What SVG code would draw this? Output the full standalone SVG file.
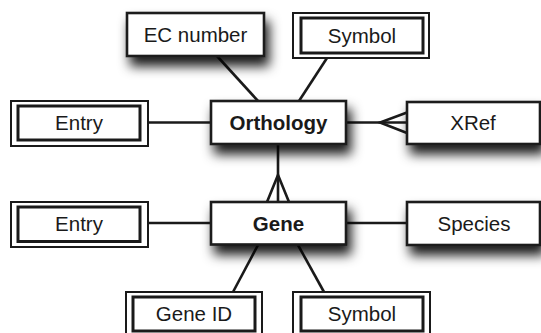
<svg xmlns="http://www.w3.org/2000/svg" width="541" height="333" viewBox="0 0 541 333">
<defs>
<filter id="sh" x="-20%" y="-30%" width="150%" height="200%">
<feDropShadow dx="4" dy="9" stdDeviation="6" flood-color="#000" flood-opacity="0.9"/>
</filter>
<style>
.box{fill:#fff;stroke:#1a1a1a;stroke-width:2.6}
.outer{fill:#fff;stroke:#1a1a1a;stroke-width:2}
.inner{fill:#fff;stroke:#1a1a1a;stroke-width:3}
.t{font-family:"Liberation Sans",Arial,sans-serif;font-size:20.5px;fill:#1a1a1a;text-anchor:middle}
.b{font-weight:bold}
.c{stroke:#1a1a1a;stroke-width:2.6;fill:none}
</style>
</defs>
<rect width="541" height="333" fill="#fff"/>
<g id="connectors">
<line class="c" x1="217" y1="56" x2="258" y2="101"/>
<line class="c" x1="327" y1="58" x2="299" y2="101"/>
<line class="c" x1="148" y1="122.5" x2="211" y2="122.5"/>
<line class="c" x1="346" y1="122.5" x2="407" y2="122.5"/>
<polyline class="c" points="407,112.5 380,122.5 407,133"/>
<line class="c" x1="278" y1="144" x2="278" y2="202"/>
<polyline class="c" points="267,202 278,175 289,202"/>
<line class="c" x1="148" y1="223" x2="211" y2="223"/>
<line class="c" x1="346" y1="223" x2="407" y2="223"/>
<line class="c" x1="258" y1="245" x2="233" y2="292"/>
<line class="c" x1="298" y1="245" x2="324" y2="292"/>
</g>
<g id="ec-number">
<rect class="box" filter="url(#sh)" x="127" y="13" width="137" height="43"/>
<text class="t" x="195.5" y="41.5">EC number</text>
</g>
<g id="symbol-top">
<rect class="outer" x="293" y="13" width="136" height="45"/>
<rect class="inner" x="301" y="18" width="122" height="35"/>
<text class="t" x="362" y="42.5">Symbol</text>
</g>
<g id="entry-top">
<rect class="outer" x="11" y="101" width="137" height="45"/>
<rect class="inner" x="18" y="106" width="122" height="34"/>
<text class="t" x="79" y="130">Entry</text>
</g>
<g id="orthology">
<rect class="box" filter="url(#sh)" x="211" y="101" width="135" height="43"/>
<text class="t b" x="278.5" y="129.5">Orthology</text>
</g>
<g id="xref">
<rect class="box" filter="url(#sh)" x="407" y="102" width="133" height="42"/>
<text class="t" x="473" y="130">XRef</text>
</g>
<g id="entry-bottom">
<rect class="outer" x="11" y="202" width="137" height="45"/>
<rect class="inner" x="18" y="207" width="122" height="34.5"/>
<text class="t" x="79" y="231">Entry</text>
</g>
<g id="gene">
<rect class="box" filter="url(#sh)" x="211" y="202" width="135" height="42.5"/>
<text class="t b" x="278.5" y="230.5">Gene</text>
</g>
<g id="species">
<rect class="box" filter="url(#sh)" x="407" y="202" width="133" height="43"/>
<text class="t" x="474" y="230.5">Species</text>
</g>
<g id="gene-id">
<rect class="outer" x="126" y="292" width="136" height="50"/>
<rect class="inner" x="133" y="297" width="122" height="34"/>
<text class="t" x="194" y="321">Gene ID</text>
</g>
<g id="symbol-bottom">
<rect class="outer" x="293" y="292" width="137" height="50"/>
<rect class="inner" x="301" y="297" width="122" height="34"/>
<text class="t" x="362" y="321">Symbol</text>
</g>
</svg>
